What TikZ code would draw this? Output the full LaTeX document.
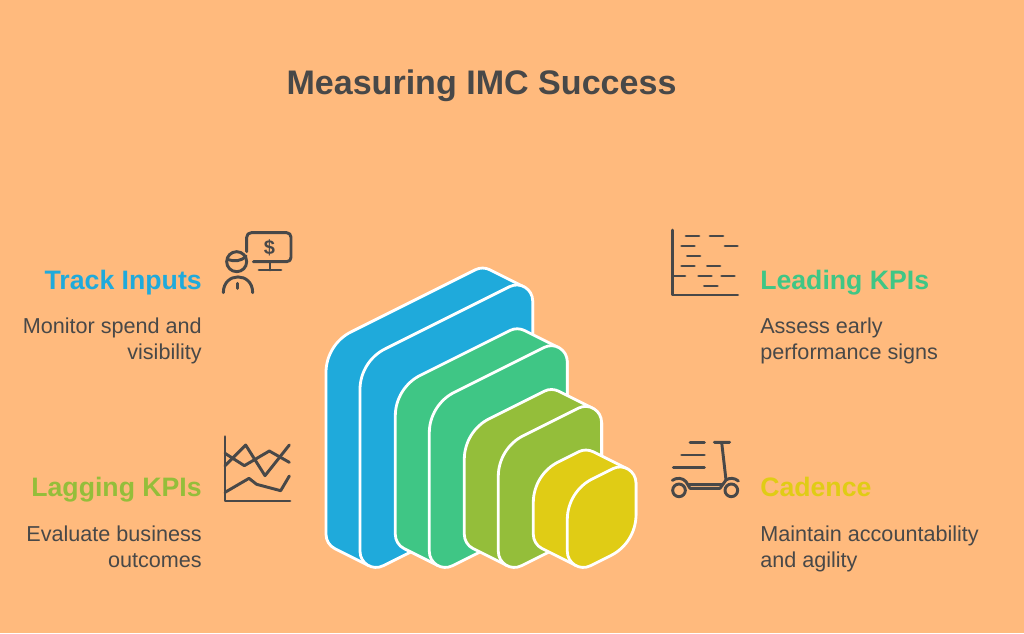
\documentclass[tikz,border=0pt]{standalone}
\usepackage{fontspec}
\setmainfont{Liberation Sans}
\definecolor{bgc}{HTML}{FFBA7D}
\definecolor{ink}{HTML}{484848}
\definecolor{cblue}{HTML}{1FAADB}
\definecolor{cgreen}{HTML}{3FC685}
\definecolor{colive}{HTML}{94BE3A}
\definecolor{cyellow}{HTML}{E0CC15}
\tikzset{
  slab/.style={draw=white,line width=2.1pt,line join=round},
  icon/.style={draw=ink,line width=2.2pt,line cap=round,line join=round},
  heading/.style={font=\fontsize{20}{24}\selectfont\bfseries,inner sep=0pt},
  body/.style={font=\fontsize{16.2}{19.5}\selectfont,text=ink,inner sep=0pt},
  zoomed/.style={x=0.25pt,y=-0.25pt}
}
% #1 left x of the front face, #2 its width, #3 colour
\newcommand{\slablayer}[3]{
  \begin{scope}[shift={(#1,577.3)}]
    \pgfmathsetmacro{\wd}{#2}
    \pgfmathsetmacro{\ya}{-1.25*#2}
    \pgfmathsetmacro{\yb}{-1.75*#2}
    \pgfmathsetmacro{\yc}{-0.5*#2}
    \path[slab,fill=#3]
      (-34,\ya+11) .. controls (-34,\ya-6) and (-24.2,\ya-21.9) .. (-9,\ya-29.5)
      -- (\wd-57.2,\yb-5.4) .. controls (\wd-52.7,\yb-7.65) and (\wd-47.3,\yb-7.55) .. (\wd-42.8,\yb-5.3)
      -- (\wd-8.8,\yb+11.7) -- (\wd,\yb+26) -- (\wd,\yc-28) -- (8.8,-11.7) -- (-25.2,-28.7)
      .. controls (-30.6,-31.4) and (-34,-36.9) .. (-34,-43) -- cycle;
    \path[slab,fill=#3]
      (0,\ya+28) .. controls (0,\ya+11) and (9.8,\ya-4.9) .. (25,\ya-12.5)
      -- (\wd-23.2,\yb+11.6) .. controls (\wd-12.5,\yb+6.2) and (\wd,\yb+14) .. (\wd,\yb+26)
      -- (\wd,\yc-28) .. controls (\wd,\yc-11) and (\wd-9.8,\yc+4.9) .. (\wd-25,\yc+12.5)
      -- (23.2,-11.6) .. controls (12.5,-6.2) and (0,-14) .. (0,-26) -- cycle;
  \end{scope}
}
\begin{document}
\begin{tikzpicture}[x=0.75pt,y=-0.75pt]
\useasboundingbox (0,0) rectangle (1024,633);
\fill[bgc] (0,0) rectangle (1024,633);

\node[font=\fontsize{25.55}{30}\selectfont\bfseries,text=ink,inner sep=0pt,anchor=base] (title) at (481.5,94) {Measuring IMC Success};

\slablayer{360}{172.7}{cblue}
\slablayer{429.3}{138}{cgreen}
\slablayer{498.3}{103.3}{colive}
\slablayer{567.3}{68.7}{cyellow}

% left column
\node[heading,text=cblue,anchor=base east] (track) at (202,289) {Track Inputs};
\node[body,align=right,anchor=north east] (trackb) at (202,317.5) {Monitor spend and\\visibility};
\node[heading,text=colive,anchor=base east] (lag) at (202,496) {Lagging KPIs};
\node[body,align=right,anchor=north east] (lagb) at (202,526) {Evaluate business\\outcomes};
% right column
\node[heading,text=cgreen,anchor=base west] (lead) at (760,289) {Leading KPIs};
\node[body,align=left,anchor=north west] (leadb) at (760,317.5) {Assess early\\performance signs};
\node[heading,text=cyellow,anchor=base west] (cad) at (760,496) {Cadence};
\node[body,align=left,anchor=north west] (cadb) at (760,526) {Maintain accountability\\and agility};

% icon: monitor and person
\begin{scope}[shift={(210,220)},zoomed]
  \path[icon] (110,95) -- (110,52) .. controls (110,44) and (116,38) .. (124,38) -- (230,38)
     .. controls (238,38) and (243,44) .. (243,52) -- (243,112) .. controls (243,120) and (238,125) .. (230,125) -- (130,125);
  \path[icon] (180,125) -- (180,150) (147,150) -- (213,150);
  \node[font=\fontsize{15}{18}\selectfont\bfseries,text=ink,inner sep=0pt] (dollar) at (178,82) {\$};
  \path[icon] (80,125) circle [radius=30];
  \path[icon] (52,118) .. controls (75,125) and (92,125) .. (108,108);
  \path[icon] (40,218) .. controls (40,155) and (128,155) .. (128,218);
  \path[icon] (83,190) -- (83,205);
\end{scope}

% icon: line chart
\begin{scope}[shift={(210,425)},zoomed]
  \path[icon] (45,35) -- (45,228) -- (240,228);
  \path[icon] (45,85) -- (103,122) -- (178,78) -- (238,112);
  \path[icon] (45,122) -- (107,60) -- (165,152) -- (238,60);
  \path[icon] (45,202) -- (117,160) -- (140,178) -- (212,197) -- (238,153);
\end{scope}

% icon: scattered dashes
\begin{scope}[shift={(660,220)},zoomed]
  \path[icon] (38,30) -- (38,225) -- (233,225);
  \path[icon] (78,48) -- (117,48) (150,48) -- (189,48)
     (65,78) -- (103,78) (195,78) -- (232,78)
     (82,108) -- (120,108)
     (65,138) -- (103,138) (142,138) -- (180,138)
     (38,168) -- (75,168) (116,168) -- (154,168) (185,168) -- (223,168)
     (133,198) -- (172,198);
\end{scope}

% icon: scooter
\begin{scope}[shift={(660,425)},zoomed]
  \path[icon] (90,52) -- (133,52) (65,90) -- (133,90) (40,128) -- (133,128);
  \path[icon] (163,52) -- (209,52) (185,52) -- (198,165);
  \path[icon] (57,196) circle [radius=19] (214,196) circle [radius=19];
  \path[icon] (37,166) .. controls (50,157) and (68,158) .. (78,170) -- (90,190) -- (180,190) -- (198,165)
     .. controls (208,158) and (224,158) .. (235,168);
  \path[icon] (86,178) -- (186,178);
\end{scope}
\end{tikzpicture}
\end{document}
